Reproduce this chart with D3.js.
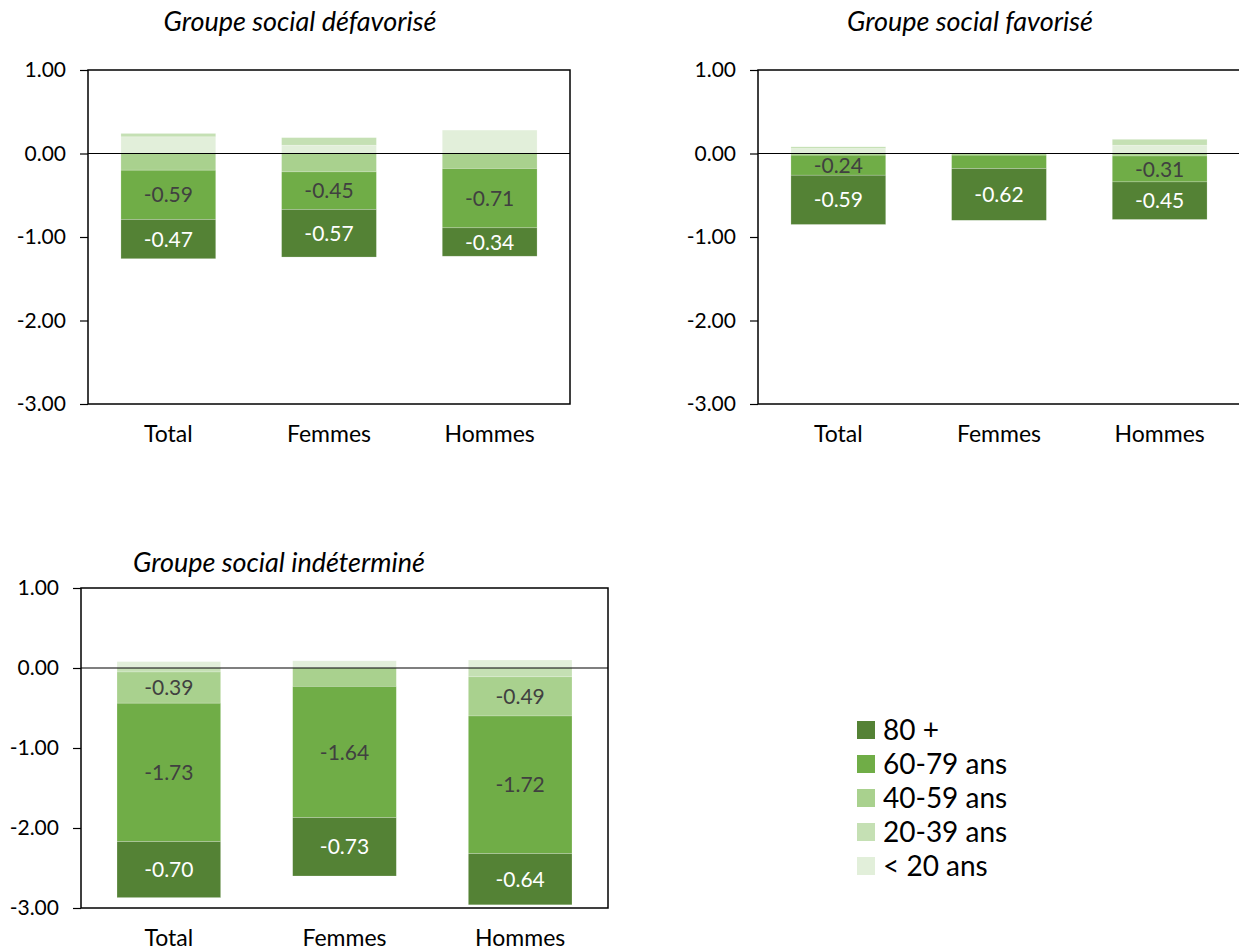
<!DOCTYPE html>
<html>
<head>
<meta charset="utf-8">
<script src="https://cdn.jsdelivr.net/npm/d3@7"></script>
<style>
  body { margin: 0; background: #fff; }
  svg { display: block; font-family: Lato, "Open Sans", sans-serif; }
</style>
</head>
<body>
<svg id="chart" width="1239" height="950"></svg>
<script>
// categories and age groups (series order = stacking order, nearest zero first)
const categories = ["Total", "Femmes", "Hommes"];
const ageGroups = ["< 20 ans", "20-39 ans", "40-59 ans", "60-79 ans", "80 +"];
const legendOrder = ["80 +", "60-79 ans", "40-59 ans", "20-39 ans", "< 20 ans"];
const colors = ["#e2efda", "#c5e0b4", "#a9d18e", "#70ad47", "#548235"];
const tickValues = [1, 0, -1, -2, -3];

// values per bar, in ageGroups order
const defavTotal = [0.20, 0.04, -0.20, -0.59, -0.47];
const defavFemmes = [0.10, 0.09, -0.22, -0.45, -0.57];
const defavHommes = [0.28, 0.00, -0.18, -0.71, -0.34];

const favTotal = [0.06, 0.02, -0.02, -0.24, -0.59];
const favFemmes = [0.00, 0.00, -0.02, -0.16, -0.62];
const favHommes = [0.10, 0.07, -0.03, -0.31, -0.45];

const indetTotal = [0.08, -0.05, -0.39, -1.73, -0.70];
const indetFemmes = [0.09, 0.00, -0.23, -1.64, -0.73];
const indetHommes = [0.10, -0.11, -0.49, -1.72, -0.64];

const svg = d3.select("#chart");

// plain hyphen for negatives, like Excel
const fmt = d => d.toFixed(2);

function drawPanel(title, rows, box, titleX, titleY) {
  // build table for d3.stack
  const table = categories.map((c, i) => {
    const o = { cat: c };
    ageGroups.forEach((a, j) => { o[a] = rows[i][j]; });
    return o;
  });

  const series = d3.stack()
    .keys(ageGroups)
    .order(d3.stackOrderNone)
    .offset(d3.stackOffsetDiverging)(table);

  const x = d3.scaleBand()
    .domain(categories)
    .range([box.left, box.right])
    .paddingInner(0.41)
    .paddingOuter(0.205);

  const y = d3.scaleLinear()
    .domain([-3, 1])
    .range([box.bottom, box.top]);

  const g = svg.append("g");

  // bars
  series.forEach((s, si) => {
    g.append("g")
      .selectAll("rect")
      .data(s)
      .enter().append("rect")
        .attr("x", d => x(d.data.cat))
        .attr("width", x.bandwidth())
        .attr("y", d => y(d[1]))
        .attr("height", d => y(d[0]) - y(d[1]))
        .attr("fill", colors[si])
        .attr("stroke", "#ffffff")
        .attr("stroke-opacity", 0.35)
        .attr("stroke-width", 0.6);
  });

  // data labels (negative segments large enough only)
  series.forEach((s, si) => {
    g.append("g")
      .selectAll("text")
      .data(s.filter(d => d[0] < 0 && Math.abs(d[1] - d[0]) >= 0.235))
      .enter().append("text")
        .attr("x", d => x(d.data.cat) + x.bandwidth() / 2)
        .attr("y", d => (y(d[0]) + y(d[1])) / 2)
        .attr("dy", "0.36em")
        .attr("text-anchor", "middle")
        .attr("font-size", 21)
        .attr("fill", si === 4 ? "#ffffff" : "#404040")
        .text(d => fmt(d[0] - d[1]));
  });

  // plot area border
  g.append("rect")
    .attr("x", box.left)
    .attr("y", box.top)
    .attr("width", box.right - box.left)
    .attr("height", box.bottom - box.top)
    .attr("fill", "none")
    .attr("stroke", "#000")
    .attr("stroke-width", 1.5);

  // zero line
  g.append("line")
    .attr("x1", box.left)
    .attr("x2", box.right)
    .attr("y1", y(0))
    .attr("y2", y(0))
    .attr("stroke", "#000")
    .attr("stroke-width", 1.1);

  // y axis
  const yAxis = g.append("g")
    .attr("transform", "translate(" + box.left + ",0)")
    .call(d3.axisLeft(y).tickValues(tickValues).tickSize(8).tickPadding(14).tickFormat(fmt));
  yAxis.select(".domain").remove();
  yAxis.selectAll("line").attr("stroke", "#000").attr("stroke-width", 1.2);
  yAxis.selectAll("text").attr("font-size", 21).attr("fill", "#000").attr("font-family", "Lato, sans-serif");

  // category labels
  g.append("g")
    .selectAll("text")
    .data(categories)
    .enter().append("text")
      .attr("x", d => x(d) + x.bandwidth() / 2)
      .attr("y", box.bottom + 30)
      .attr("dy", "0.36em")
      .attr("text-anchor", "middle")
      .attr("font-size", 23)
      .attr("fill", "#000")
      .text(d => d);

  // title
  g.append("text")
    .attr("x", titleX)
    .attr("y", titleY)
    .attr("dy", "0.36em")
    .attr("text-anchor", "middle")
    .attr("font-size", 27)
    .attr("font-style", "italic")
    .attr("fill", "#000")
    .text(title);
}

drawPanel("Groupe social défavorisé",
  [defavTotal, defavFemmes, defavHommes],
  { left: 88, right: 570, top: 70, bottom: 404 }, 300, 21);

drawPanel("Groupe social favorisé",
  [favTotal, favFemmes, favHommes],
  { left: 758, right: 1240, top: 70, bottom: 404 }, 970, 21);

drawPanel("Groupe social indéterminé",
  [indetTotal, indetFemmes, indetHommes],
  { left: 81, right: 608, top: 588, bottom: 908 }, 279, 562);

// legend
const legendY = d3.scalePoint()
  .domain(legendOrder)
  .range([730, 866]);

const legend = svg.append("g");
legendOrder.forEach(k => {
  const ci = ageGroups.indexOf(k);
  legend.append("rect")
    .attr("x", 857)
    .attr("y", legendY(k) - 9)
    .attr("width", 18)
    .attr("height", 18)
    .attr("fill", colors[ci]);
  legend.append("text")
    .attr("x", 883)
    .attr("y", legendY(k))
    .attr("dy", "0.36em")
    .attr("font-size", 28)
    .attr("fill", "#000")
    .text(k);
});
</script>
</body>
</html>
